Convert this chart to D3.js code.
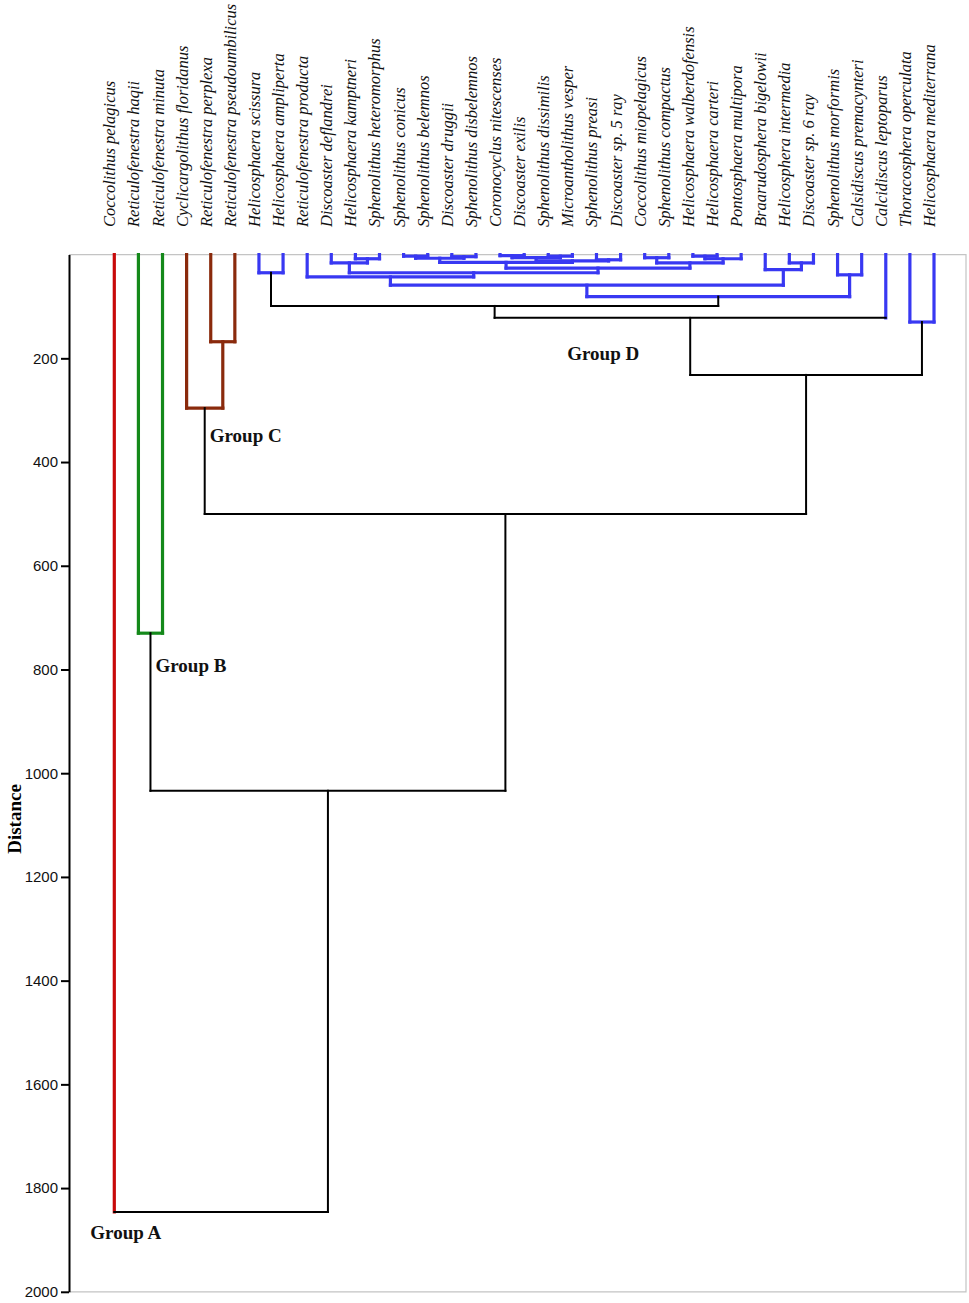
<!DOCTYPE html>
<html>
<head>
<meta charset="utf-8">
<script src="https://cdn.jsdelivr.net/npm/d3@7"></script>
<style>
  body { margin: 0; background: #fff; }
  svg { display: block; }
</style>
</head>
<body>
<div id="chart"></div>
<script>
// leaves of the dendrogram, in the order they are drawn left to right
var leaves = [
  'Coccolithus pelagicus', 'Reticulofenestra haqii', 'Reticulofenestra minuta',
  'Cyclicargolithus floridanus', 'Reticulofenestra perplexa', 'Reticulofenestra pseudoumbilicus',
  'Helicosphaera scissura', 'Helicosphaera ampliperta', 'Reticulofenestra producta',
  'Discoaster deflandrei', 'Helicosphaera kamptneri', 'Sphenolithus heteromorphus',
  'Sphenolithus conicus', 'Sphenolithus belemnos', 'Discoaster druggii',
  'Sphenolithus disbelemnos', 'Coronocyclus nitescenses', 'Discoaster exilis',
  'Sphenolithus dissimilis', 'Microantholithus vesper', 'Sphenolithus preasi',
  'Discoaster sp. 5 ray', 'Coccolithus miopelagicus', 'Sphenolithus compactus',
  'Helicosphaera walberdofensis', 'Helicosphaera carteri', 'Pontosphaera multipora',
  'Braarudosphera bigelowii', 'Helicosphera intermedia', 'Discoaster sp. 6 ray',
  'Sphenolithus morformis', 'Calsidiscus premacynteri', 'Calcidiscus leptoparus',
  'Thoracosphera operculata', 'Helicosphaera mediterrana'
]

// merges: [node id, left child, right child, distance]
var merges = [
  ['a', 'Sphenolithus conicus', 'Sphenolithus belemnos', 3],
  ['b', 'Discoaster druggii', 'Sphenolithus disbelemnos', 4],
  ['c', 'a', 'b', 7],
  ['d', 'Coronocyclus nitescenses', 'Discoaster exilis', 2],
  ['e', 'Sphenolithus dissimilis', 'Microantholithus vesper', 3],
  ['f', 'd', 'e', 6],
  ['g', 'Sphenolithus preasi', 'Discoaster sp. 5 ray', 10],
  ['h', 'f', 'g', 12],
  ['i', 'c', 'h', 15],
  ['j', 'Coccolithus miopelagicus', 'Sphenolithus compactus', 6],
  ['k', 'Helicosphaera walberdofensis', 'Helicosphaera carteri', 3],
  ['l', 'k', 'Pontosphaera multipora', 8],
  ['m', 'j', 'l', 16],
  ['n', 'i', 'm', 26],
  ['o', 'Helicosphaera kamptneri', 'Sphenolithus heteromorphus', 8],
  ['p', 'Discoaster deflandrei', 'o', 16],
  ['q', 'p', 'n', 35],
  ['r', 'Reticulofenestra producta', 'q', 43],
  ['s', 'Helicosphera intermedia', 'Discoaster sp. 6 ray', 16],
  ['t', 'Braarudosphera bigelowii', 's', 29],
  ['u', 'r', 't', 59],
  ['v', 'Sphenolithus morformis', 'Calsidiscus premacynteri', 39],
  ['w', 'u', 'v', 81],
  ['x', 'Helicosphaera scissura', 'Helicosphaera ampliperta', 35],
  ['y', 'x', 'w', 99],
  ['z', 'y', 'Calcidiscus leptoparus', 122],
  ['tm', 'Thoracosphera operculata', 'Helicosphaera mediterrana', 130],
  ['D', 'z', 'tm', 232],
  ['C1', 'Reticulofenestra perplexa', 'Reticulofenestra pseudoumbilicus', 168],
  ['C', 'Cyclicargolithus floridanus', 'C1', 296],
  ['CD', 'C', 'D', 500],
  ['B', 'Reticulofenestra haqii', 'Reticulofenestra minuta', 730],
  ['BCD', 'B', 'CD', 1034],
  ['root', 'Coccolithus pelagicus', 'BCD', 1846]
]

// coloured sub-clusters and their colours
var clusterRoots = ['Coccolithus pelagicus', 'B', 'C', 'x', 'w', 'Calcidiscus leptoparus', 'tm']
var clusterColors = ['#c80a0a', '#14891a', '#8a2a0c', '#3838f2', '#3838f2', '#3838f2', '#3838f2']

var groupNames = ['Group A', 'Group B', 'Group C', 'Group D']
var tickValues = [200, 400, 600, 800, 1000, 1200, 1400, 1600, 1800, 2000]

var W = 969
var H = 1303
var plot = { left: 69, right: 966, top: 254.6, bottom: 1291.8 }

var svg = d3.select('#chart').append('svg')
  .attr('width', W)
  .attr('height', H)

var xScale = d3.scalePoint().domain(leaves).range([114.3, 934])
var yScale = d3.scaleLinear().domain([0, 2000]).range([plot.top, plot.bottom])

// build the node table
var nodes = {}
leaves.forEach(function (name) {
  nodes[name] = { name: name, h: 0, leaf: true, x: xScale(name), children: [] }
})
merges.forEach(function (m) {
  var l = nodes[m[1]]
  var r = nodes[m[2]]
  nodes[m[0]] = { name: m[0], h: m[3], leaf: false, x: (l.x + r.x) / 2, children: [l, r] }
})

// mark colours on each coloured sub-tree
function paint (node, color) {
  node.color = color
  node.children.forEach(function (c) { paint(c, color) })
}
clusterRoots.forEach(function (id, i) { paint(nodes[id], clusterColors[i]) })

// frame
var frame = svg.append('g').attr('stroke', '#c4c4c4').attr('stroke-width', 1.2).attr('fill', 'none')
frame.append('path')
  .attr('d', 'M' + plot.left + ',' + plot.top + 'H' + plot.right + 'V' + plot.bottom + 'H' + plot.left)

// links
var segs = []
merges.forEach(function (m) {
  var p = nodes[m[0]]
  p.children.forEach(function (c) {
    var col = p.color || (c.leaf && c.color) || '#000'
    segs.push({ d: 'M' + c.x + ',' + yScale(c.h) + 'V' + yScale(p.h), color: col })
  })
  segs.push({
    d: 'M' + p.children[0].x + ',' + yScale(p.h) + 'H' + p.children[1].x,
    color: p.color || '#000'
  })
})

svg.append('g').attr('id', 'g-links')
  .selectAll('path')
  .data(segs)
  .enter()
  .append('path')
  .attr('d', function (d) { return d.d })
  .attr('fill', 'none')
  .attr('stroke', function (d) { return d.color })
  .attr('stroke-width', function (d) { return d.color === '#000' ? 2 : 3.2 })
  .attr('stroke-linecap', 'square')

// leaf labels, reading bottom to top above the plot
svg.append('g').attr('id', 'g-labels')
  .selectAll('text')
  .data(leaves)
  .enter()
  .append('text')
  .attr('transform', function (d) { return 'translate(' + (xScale(d) + 1) + ',227) rotate(-90)' })
  .attr('text-anchor', 'start')
  .attr('font-family', 'Liberation Serif, Times New Roman, serif')
  .attr('font-style', 'italic')
  .attr('font-size', 16.5)
  .attr('fill', '#111')
  .text(function (d) { return d })

// y axis
var yAxis = d3.axisLeft(yScale)
  .tickValues(tickValues)
  .tickFormat(d3.format('d'))
  .tickSize(8)
  .tickSizeOuter(0)
  .tickPadding(3)
var gAxis = svg.append('g')
  .attr('transform', 'translate(' + plot.left + ',0)')
  .call(yAxis)
gAxis.select('.domain').attr('stroke', '#000').attr('stroke-width', 2)
gAxis.selectAll('.tick line').attr('stroke', '#000').attr('stroke-width', 2)
gAxis.selectAll('.tick text')
  .attr('font-family', 'Liberation Sans, Arial, sans-serif')
  .attr('font-size', 15)
  .attr('fill', '#111')

svg.append('text')
  .attr('transform', 'translate(21,819) rotate(-90)')
  .attr('text-anchor', 'middle')
  .attr('font-family', 'Liberation Serif, Times New Roman, serif')
  .attr('font-weight', 'bold')
  .attr('font-size', 19)
  .text('Distance')

// group labels, placed next to the node that closes each group
var groupAnchors = [
  { x: nodes['Coccolithus pelagicus'].x - 24, y: yScale(nodes.root.h) + 27 },
  { x: nodes.B.x + 5, y: yScale(nodes.B.h) + 39 },
  { x: nodes.C.x + 5, y: yScale(nodes.C.h) + 34 },
  { x: nodes.z.x - 123, y: yScale(nodes.D.h) - 15 }
]
svg.append('g').attr('id', 'g-groups')
  .selectAll('text')
  .data(groupNames)
  .enter()
  .append('text')
  .attr('x', function (d, i) { return groupAnchors[i].x })
  .attr('y', function (d, i) { return groupAnchors[i].y })
  .attr('font-family', 'Liberation Serif, Times New Roman, serif')
  .attr('font-weight', 'bold')
  .attr('font-size', 19)
  .attr('fill', '#111')
  .text(function (d) { return d })
</script>
</body>
</html>
